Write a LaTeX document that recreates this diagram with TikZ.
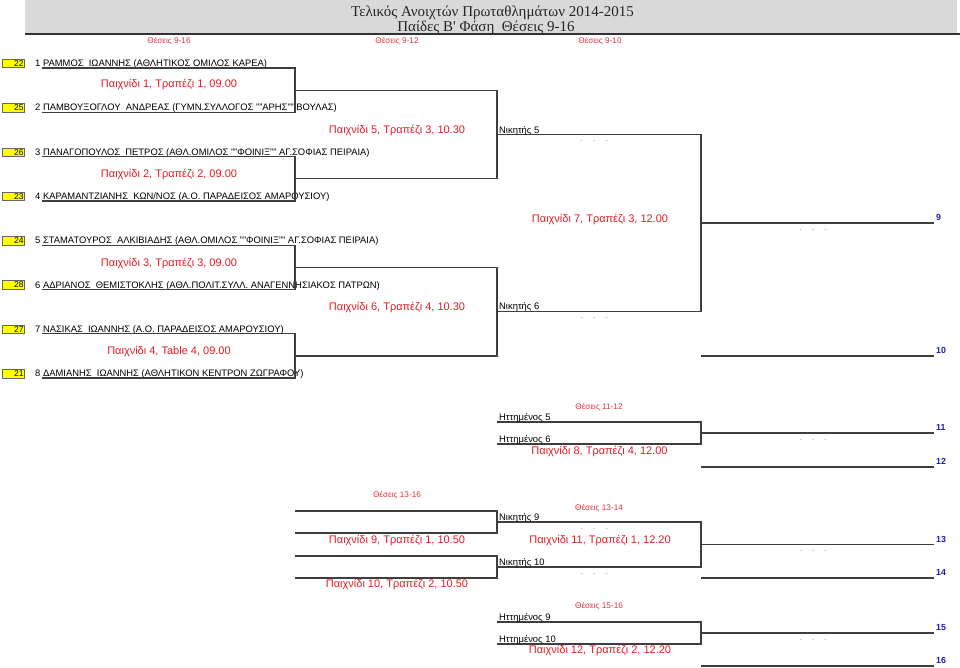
\documentclass[tikz,border=0pt]{standalone}
\usepackage{fontspec}
\setmainfont{Liberation Sans}
\newfontfamily\titlefont{Liberation Serif}
\definecolor{gamered}{RGB}{225,28,36}
\definecolor{headred}{RGB}{220,50,62}
\definecolor{posblue}{RGB}{30,30,170}
\definecolor{linegray}{RGB}{62,62,62}
\definecolor{hdrgray}{RGB}{217,217,217}
\definecolor{seedyellow}{RGB}{255,255,0}
\tikzset{
  conn/.style={draw=linegray, line width=1.3pt},
  hdrline/.style={draw=black!80, line width=1.5pt},
  titletext/.style={anchor=base, inner sep=0, font=\titlefont\fontsize{15}{17}\selectfont, text=black!85},
  seedbox/.style={fill=seedyellow, draw=black!60, line width=0.6pt, minimum width=22pt, minimum height=8.5pt, inner xsep=1pt, inner ysep=0pt, text width=20pt, align=right, font=\fontsize{8.5}{9}\selectfont},
  player/.style={anchor=base west, inner sep=0, font=\fontsize{9.4}{11}\selectfont},
  gamelbl/.style={anchor=base, inner sep=0, text=gamered, font=\fontsize{11}{12}\selectfont},
  colhead/.style={anchor=base, inner sep=0, text=headred, font=\fontsize{8.2}{9}\selectfont},
  slotlbl/.style={anchor=base west, inner sep=0, font=\fontsize{9.4}{11}\selectfont},
  placelbl/.style={anchor=base west, inner sep=0, text=posblue, font=\bfseries\fontsize{8.8}{10}\selectfont},
  pending/.style={anchor=base, inner sep=0, text=black!55, font=\fontsize{6}{7}\selectfont}
}
\newcommand{\pendtxt}{-\hspace{10.5pt}-\hspace{10.5pt}-}
\begin{document}
\begin{tikzpicture}[x=1pt,y=-1pt]
\useasboundingbox (0,0) rectangle (960,667);
% header
\fill[hdrgray] (25,0) rectangle (957,33.5);
\coordinate (hl) at (25,34);
\coordinate (hr) at (960,34);
\draw[hdrline] (hl) -- (hr);
\node[titletext] (t1) at (492.5,16) {Τελικός Ανοιχτών Πρωταθλημάτων 2014-2015};
\node[titletext] (t2) at (486,31) {Παίδες Β' Φάση\ \ Θέσεις 9-16};
% column headers
\node[colhead] (h1) at (169,43.3) {Θέσεις 9-16};
\node[colhead] (h2) at (397,43.3) {Θέσεις 9-12};
\node[colhead] (h3) at (600,43.3) {Θέσεις 9-10};
\node[colhead] (h4) at (599,409.3) {Θέσεις 11-12};
\node[colhead] (h5) at (397,497.7) {Θέσεις 13-16};
\node[colhead] (h6) at (599,510) {Θέσεις 13-14};
\node[colhead] (h7) at (599,608.7) {Θέσεις 15-16};
% seeds
\node[seedbox] (s1) at (13.5,63.5) {22};
\node[seedbox] (s2) at (13.5,107.8) {25};
\node[seedbox] (s3) at (13.5,152.1) {26};
\node[seedbox] (s4) at (13.5,196.4) {23};
\node[seedbox] (s5) at (13.5,240.7) {24};
\node[seedbox] (s6) at (13.5,285.0) {28};
\node[seedbox] (s7) at (13.5,329.3) {27};
\node[seedbox] (s8) at (13.5,373.6) {21};
% players
\node[player] (p1) at (35,66.5) {1 ΡΑΜΜΟΣ\ \ ΙΩΑΝΝΗΣ (ΑΘΛΗΤΙΚΟΣ ΟΜΙΛΟΣ ΚΑΡΕΑ)};
\node[player] (p2) at (35,110.8) {2 ΠΑΜΒΟΥΞΟΓΛΟΥ\ \ ΑΝΔΡΕΑΣ (ΓΥΜΝ.ΣΥΛΛΟΓΟΣ ""ΑΡΗΣ"" ΒΟΥΛΑΣ)};
\node[player] (p3) at (35,155.1) {3 ΠΑΝΑΓΟΠΟΥΛΟΣ\ \ ΠΕΤΡΟΣ (ΑΘΛ.ΟΜΙΛΟΣ ""ΦΟΙΝΙΞ"" ΑΓ.ΣΟΦΙΑΣ ΠΕΙΡΑΙΑ)};
\node[player] (p4) at (35,199.4) {4 ΚΑΡΑΜΑΝΤΖΙΑΝΗΣ\ \ ΚΩΝ/ΝΟΣ (Α.Ο. ΠΑΡΑΔΕΙΣΟΣ ΑΜΑΡΟΥΣΙΟΥ)};
\node[player] (p5) at (35,243.7) {5 ΣΤΑΜΑΤΟΥΡΟΣ\ \ ΑΛΚΙΒΙΑΔΗΣ (ΑΘΛ.ΟΜΙΛΟΣ ""ΦΟΙΝΙΞ"" ΑΓ.ΣΟΦΙΑΣ ΠΕΙΡΑΙΑ)};
\node[player] (p6) at (35,288.0) {6 ΑΔΡΙΑΝΟΣ\ \ ΘΕΜΙΣΤΟΚΛΗΣ (ΑΘΛ.ΠΟΛΙΤ.ΣΥΛΛ. ΑΝΑΓΕΝΝΗΣΙΑΚΟΣ ΠΑΤΡΩΝ)};
\node[player] (p7) at (35,332.3) {7 ΝΑΣΙΚΑΣ\ \ ΙΩΑΝΝΗΣ (Α.Ο. ΠΑΡΑΔΕΙΣΟΣ ΑΜΑΡΟΥΣΙΟΥ)};
\node[player] (p8) at (35,376.6) {8 ΔΑΜΙΑΝΗΣ\ \ ΙΩΑΝΝΗΣ (ΑΘΛΗΤΙΚΟΝ ΚΕΝΤΡΟΝ ΖΩΓΡΑΦΟΥ)};
% coordinates of main bracket
\coordinate (a1) at (42,68);      \coordinate (b1) at (295,68);
\coordinate (a2) at (42,112.3);   \coordinate (b2) at (295,112.3);
\coordinate (a3) at (42,156.6);   \coordinate (b3) at (295,156.6);
\coordinate (a4) at (42,200.9);   \coordinate (b4) at (295,200.9);
\coordinate (a5) at (42,245.2);   \coordinate (b5) at (295,245.2);
\coordinate (a6) at (42,289.5);   \coordinate (b6) at (295,289.5);
\coordinate (a7) at (42,333.8);   \coordinate (b7) at (295,333.8);
\coordinate (a8) at (42,378.1);   \coordinate (b8) at (295,378.1);
\coordinate (c1) at (295,90.15);  \coordinate (e1) at (497,90.15);
\coordinate (c2) at (295,178.75); \coordinate (e2) at (497,178.75);
\coordinate (c3) at (295,267.35); \coordinate (e3) at (497,267.35);
\coordinate (c4) at (295,355.95); \coordinate (e4) at (497,355.95);
\coordinate (w5) at (497,134.45); \coordinate (v5) at (701,134.45);
\coordinate (w6) at (497,311.65); \coordinate (v6) at (701,311.65);
\coordinate (f0) at (701,223.05); \coordinate (f9) at (934,223.05);
\coordinate (k0) at (701,355.95); \coordinate (k10) at (934,355.95);
% main bracket connectors
\draw[conn] (a1) -- (b1) -- (b2) -- (a2);
\draw[conn] (a3) -- (b3) -- (b4) -- (a4);
\draw[conn] (a5) -- (b5) -- (b6) -- (a6);
\draw[conn] (a7) -- (b7) -- (b8) -- (a8);
\draw[conn] (c1) -- (e1) -- (e2) -- (c2);
\draw[conn] (c3) -- (e3) -- (e4) -- (c4);
\draw[conn] (w5) -- (v5) -- (v6) -- (w6);
\draw[conn] (f0) -- (f9);
\draw[conn] (k0) -- (k10);
% game labels (main)
\node[gamelbl] (g1) at (169,87) {Παιχνίδι 1, Τραπέζι 1, 09.00};
\node[gamelbl] (g2) at (169,177.5) {Παιχνίδι 2, Τραπέζι 2, 09.00};
\node[gamelbl] (g3) at (169,266.7) {Παιχνίδι 3, Τραπέζι 3, 09.00};
\node[gamelbl] (g4) at (169,354.3) {Παιχνίδι 4, Table 4, 09.00};
\node[gamelbl] (g5) at (397,133.3) {Παιχνίδι 5, Τραπέζι 3, 10.30};
\node[gamelbl] (g6) at (397,310.7) {Παιχνίδι 6, Τραπέζι 4, 10.30};
\node[gamelbl] (g7) at (600,222) {Παιχνίδι 7, Τραπέζι 3, 12.00};
% slot labels
\node[slotlbl] (n5) at (499,133) {Νικητής 5};
\node[slotlbl] (n6) at (499,309.9) {Νικητής 6};
\node[pending] (d1) at (594,142.75) {\pendtxt};
\node[pending] (d2) at (594,319.95) {\pendtxt};
\node[pending] (d3) at (813,231.35) {\pendtxt};
\node[placelbl] (l9) at (936,220.8) {9};
\node[placelbl] (l10) at (936,353.6) {10};
% places 11-12
\coordinate (x1) at (497,422);  \coordinate (y1) at (701,422);
\coordinate (x2) at (497,444);  \coordinate (y2) at (701,444);
\coordinate (o11) at (701,433); \coordinate (z11) at (934,433);
\coordinate (o12) at (701,467); \coordinate (z12) at (934,467);
\draw[conn] (x1) -- (y1) -- (y2) -- (x2);
\draw[conn] (o11) -- (z11);
\draw[conn] (o12) -- (z12);
\node[slotlbl] (hm5) at (499,420) {Ηττημένος 5};
\node[slotlbl] (hm6) at (499,442) {Ηττημένος 6};
\node[gamelbl] (g8) at (599.5,454.3) {Παιχνίδι 8, Τραπέζι 4, 12.00};
\node[pending] (d4) at (813,441.3) {\pendtxt};
\node[placelbl] (l11) at (936,430.7) {11};
\node[placelbl] (l12) at (936,464.7) {12};
% places 13-16 : first round
\coordinate (u1) at (295,511);  \coordinate (uu1) at (497,511);
\coordinate (u2) at (295,533);  \coordinate (uu2) at (497,533);
\coordinate (u3) at (295,556);  \coordinate (uu3) at (497,556);
\coordinate (u4) at (295,578);  \coordinate (uu4) at (497,578);
\coordinate (m9) at (497,522);  \coordinate (mm9) at (701,522);
\coordinate (m10) at (497,567); \coordinate (mm10) at (701,567);
\draw[conn] (u1) -- (uu1) -- (uu2) -- (u2);
\draw[conn] (u3) -- (uu3) -- (uu4) -- (u4);
\draw[conn] (m9) -- (mm9) -- (mm10) -- (m10);
\coordinate (o13) at (701,544.5); \coordinate (z13) at (934,544.5);
\coordinate (o14) at (701,578);   \coordinate (z14) at (934,578);
\draw[conn] (o13) -- (z13);
\draw[conn] (o14) -- (z14);
\node[gamelbl] (g9) at (397,543.3) {Παιχνίδι 9, Τραπέζι 1, 10.50};
\node[gamelbl] (g10) at (397,587.3) {Παιχνίδι 10, Τραπέζι 2, 10.50};
\node[gamelbl] (g11) at (600,543.3) {Παιχνίδι 11, Τραπέζι 1, 12.20};
\node[slotlbl] (n9) at (499,520) {Νικητής 9};
\node[slotlbl] (n10) at (499,565) {Νικητής 10};
\node[pending] (d5) at (594,530.3) {\pendtxt};
\node[pending] (d6) at (594,575.3) {\pendtxt};
\node[pending] (d7) at (813,552.8) {\pendtxt};
\node[placelbl] (l13) at (936,542.2) {13};
\node[placelbl] (l14) at (936,575.7) {14};
% places 15-16
\coordinate (q1) at (497,622);  \coordinate (qq1) at (701,622);
\coordinate (q2) at (497,644);  \coordinate (qq2) at (701,644);
\coordinate (o15) at (701,633); \coordinate (z15) at (934,633);
\coordinate (o16) at (701,666); \coordinate (z16) at (934,666);
\draw[conn] (q1) -- (qq1) -- (qq2) -- (q2);
\draw[conn] (o15) -- (z15);
\draw[conn] (o16) -- (z16);
\node[slotlbl] (hm9) at (499,620) {Ηττημένος 9};
\node[slotlbl] (hm10) at (499,642) {Ηττημένος 10};
\node[gamelbl] (g12) at (600,653.3) {Παιχνίδι 12, Τραπέζι 2, 12.20};
\node[pending] (d8) at (813,641.3) {\pendtxt};
\node[placelbl] (l15) at (936,630.7) {15};
\node[placelbl] (l16) at (936,663.7) {16};
\end{tikzpicture}
\end{document}
